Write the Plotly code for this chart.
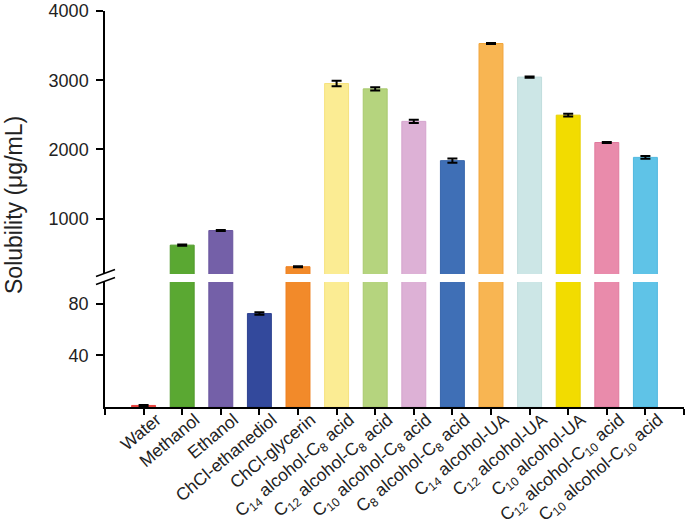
import plotly.graph_objects as go

categories = [
    "Water", "Methanol", "Ethanol", "ChCl-ethanediol", "ChCl-glycerin",
    "C<sub>14</sub> alcohol-C<sub>8</sub> acid",
    "C<sub>12</sub> alcohol-C<sub>8</sub> acid",
    "C<sub>10</sub> alcohol-C<sub>8</sub> acid",
    "C<sub>8</sub> alcohol-C<sub>8</sub> acid",
    "C<sub>14</sub> alcohol-UA",
    "C<sub>12</sub> alcohol-UA",
    "C<sub>10</sub> alcohol-UA",
    "C<sub>12</sub> alcohol-C<sub>10</sub> acid",
    "C<sub>10</sub> alcohol-C<sub>10</sub> acid",
]
solubility = [1.2, 617, 828, 72.5, 305, 2952, 2875, 2405, 1838, 3530, 3045, 2495, 2100, 1885]
errors = [0.4, 8, 8, 1.0, 6, 40, 25, 25, 30, 6, 8, 20, 6, 20]
colors = ["#e8433f", "#5aa832", "#7460a8", "#33499c", "#f28a2a", "#fbec93",
          "#b5d47e", "#ddb1d6", "#3f6fb6", "#f8b552", "#cce6e6", "#f2dc00",
          "#e98bab", "#5fc3e7"]
edge_colors = ["#e8433f", "#4f9a2a", "#6a559f", "#2d4190", "#ee7f1e", "#f6e27e",
               "#a8c96c", "#d5a3cd", "#3866ac", "#f2a53a", "#bfdcdc", "#e8d000",
               "#e07a9d", "#4fb8e0"]
lower_ticks = [40, 80]
upper_ticks = [1000, 2000, 3000, 4000]

W, H = 688, 525
ML, MR, MT, MB = 105, 4, 11, 118
PW = W - ML - MR
PH = H - MT - MB


def px_x(p):
    return (p - ML) / PW


def px_y(p):
    return (H - MB - p) / PH


x = list(range(len(categories)))
font = "Liberation Sans, Arial, sans-serif"

err = dict(type="data", array=errors, visible=True, color="black", thickness=2, width=5)

fig = go.Figure()
fig.add_trace(go.Bar(x=x, y=solubility, xaxis="x", yaxis="y", width=0.62,
                     marker=dict(color=colors, line=dict(color=edge_colors, width=1)),
                     error_y=err, showlegend=False))
fig.add_trace(go.Bar(x=x, y=solubility, xaxis="x2", yaxis="y2", width=0.62,
                     marker=dict(color=colors, line=dict(color=edge_colors, width=1)),
                     error_y=err, showlegend=False))

tickvals_x = [-1] + x + [len(categories)]
ticktext_x = [""] + categories + [""]

yax_common = dict(ticks="outside", ticklen=7, tickwidth=1.5, tickcolor="black",
                  showline=True, linecolor="black", linewidth=1.5, showgrid=False,
                  zeroline=False, tickfont=dict(size=18), ticklabelstandoff=4,
                  automargin=False, tickmode="array")

fig.update_layout(
    width=W, height=H,
    margin=dict(l=ML, r=MR, t=MT, b=MB, autoexpand=False),
    plot_bgcolor="white", paper_bgcolor="white",
    font=dict(family=font, color="#222222", size=18),
    xaxis=dict(domain=[0, 1], anchor="y", range=[-1, len(categories)],
               tickmode="array", tickvals=tickvals_x, ticktext=ticktext_x,
               tickangle=-40, ticks="outside", ticklen=6, tickwidth=1.5,
               tickcolor="black", showline=True, linecolor="black", linewidth=1.5,
               showgrid=False, zeroline=False, tickfont=dict(size=17.5),
               ticklabelshift=13, ticklabelstandoff=-12,
               automargin=False),
    xaxis2=dict(domain=[0, 1], anchor="y2", matches="x", visible=False,
                range=[-1, len(categories)], automargin=False),
    yaxis=dict(domain=[0, px_y(282)], range=[0, 97], anchor="x",
               tickvals=lower_ticks, **yax_common),
    yaxis2=dict(domain=[px_y(274), 1], range=[200, 4000], anchor="x2",
                tickvals=upper_ticks, **yax_common),
    annotations=[dict(text="Solubility (μg/mL)", xref="paper", yref="paper",
                      x=px_x(14), y=px_y(205), xanchor="center", yanchor="middle",
                      textangle=-90, showarrow=False,
                      font=dict(size=23, family=font, color="#222222"))],
    shapes=[
        dict(type="line", xref="paper", yref="paper",
             x0=px_x(96), y0=px_y(276.5), x1=px_x(115), y1=px_y(269.5),
             line=dict(color="black", width=1.5)),
        dict(type="line", xref="paper", yref="paper",
             x0=px_x(96), y0=px_y(284.5), x1=px_x(115), y1=px_y(277.5),
             line=dict(color="black", width=1.5)),
    ],
)

fig.write_html("out.html", config={"displayModeBar": False},
               post_script="document.body.style.margin='0';document.body.style.overflow='hidden';")
